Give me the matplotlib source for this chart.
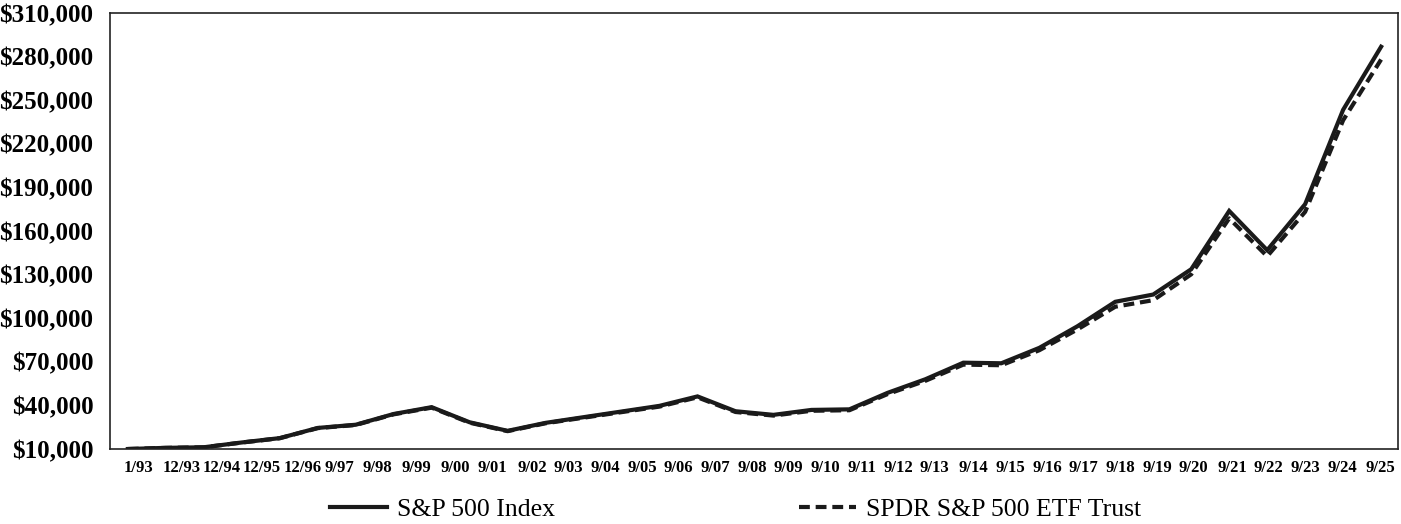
import matplotlib
matplotlib.use("Agg")
import matplotlib.pyplot as plt
from matplotlib.ticker import FuncFormatter

# Growth of $10,000 - fiscal year ends (Sept), starting 1/93
periods = ["1/93", "9/93", "9/94", "9/95", "9/96", "9/97", "9/98", "9/99", "9/00",
           "9/01", "9/02", "9/03", "9/04", "9/05", "9/06", "9/07", "9/08", "9/09",
           "9/10", "9/11", "9/12", "9/13", "9/14", "9/15", "9/16", "9/17", "9/18",
           "9/19", "9/20", "9/21", "9/22", "9/23", "9/24", "9/25"]
sp500 = [10000, 10800, 11200, 14500, 17500, 24500, 26700, 34100, 38800,
         28400, 22500, 28000, 31900, 35800, 39700, 46200, 36000, 33500,
         36900, 37300, 48600, 58000, 69400, 69000, 79600, 94400, 111300,
         116300, 133700, 173800, 146800, 178500, 243400, 286800]
spdr = [10000, 10780, 11170, 14450, 17420, 24370, 26530, 33860, 38450,
        28100, 22280, 27710, 31540, 35370, 39190, 45570, 35480, 32990,
        36310, 36680, 47750, 56930, 68070, 67640, 77970, 92200, 107900,
        112400, 130200, 168700, 142600, 173200, 236200, 278000]

# axis labels as printed under the chart
tick_labels = ["1/93", "12/93", "12/94", "12/95", "12/96", "9/97", "9/98", "9/99",
               "9/00", "9/01", "9/02", "9/03", "9/04", "9/05", "9/06", "9/07",
               "9/08", "9/09", "9/10", "9/11", "9/12", "9/13", "9/14", "9/15",
               "9/16", "9/17", "9/18", "9/19", "9/20", "9/21", "9/22", "9/23",
               "9/24", "9/25"]
# where the labels sit (the printed labels don't line up exactly with the points)
tick_pos = [0.29, 1.42, 2.48, 3.53, 4.61, 5.58, 6.58, 7.61, 8.61, 9.61, 10.64,
            11.59, 12.56, 13.54, 14.49, 15.46, 16.43, 17.38, 18.36, 19.33, 20.28,
            21.25, 22.25, 23.23, 24.20, 25.15, 26.13, 27.10, 28.05, 29.08, 30.02,
            31.00, 31.97, 32.97]

fig = plt.figure(figsize=(14.01, 5.24), dpi=100)
ax = fig.add_axes([0.0785, 0.1431, 0.9195, 0.8321])

x = list(range(len(periods)))
ax.plot(x, sp500, color="#1a1a1a", lw=3.0, solid_joinstyle="miter", label="S&P 500 Index")
ax.plot(x, spdr, color="#1a1a1a", lw=3.0, dashes=(2.6, 1.4), label="SPDR S&P 500 ETF Trust")

ax.set_xlim(-0.47, 33.45)
ax.set_ylim(10000, 310000)
ax.set_yticks(range(10000, 310001, 30000))
ax.yaxis.set_major_formatter(FuncFormatter(lambda v, p: "${:,.0f}".format(v)))
ax.set_xticks(tick_pos)
ax.set_xticklabels(tick_labels)

for lab in ax.get_yticklabels():
    lab.set_fontfamily("Liberation Serif")
    lab.set_fontweight("bold")
    lab.set_fontsize(18)
for lab in ax.get_xticklabels():
    lab.set_fontfamily("Liberation Serif")
    lab.set_fontweight("bold")
    lab.set_fontsize(12)

ax.tick_params(axis="y", length=0, pad=12)
ax.tick_params(axis="x", length=0, pad=8)
for s in ax.spines.values():
    s.set_linewidth(1.2)
    s.set_color("#222222")

fig.legend(loc="center", bbox_to_anchor=(0.525, 0.027), ncol=2, frameon=False,
           prop={"family": "Liberation Serif", "size": 18.5},
           handlelength=2.2, handletextpad=0.4, columnspacing=9.5)

fig.savefig("out.png", dpi=100)
